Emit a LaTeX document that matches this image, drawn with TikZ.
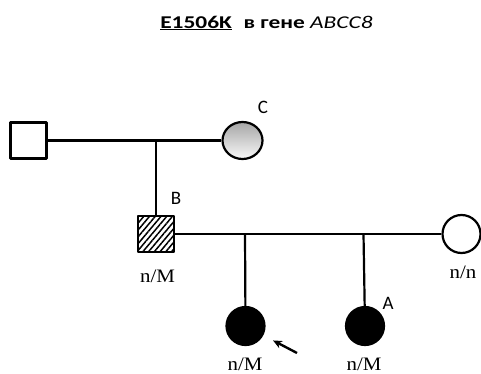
\documentclass[tikz,border=0pt]{standalone}
\usepackage{fontspec}
\setmainfont{Liberation Serif}
\newfontfamily\carlito{Carlito}
\usetikzlibrary{shapes.geometric,patterns.meta,arrows.meta}
\tikzset{
  male/.style={draw,rectangle,minimum size=36pt,inner sep=0pt,fill=white},
  female/.style={draw,circle,minimum size=38pt,inner sep=0pt,fill=white},
  affected/.style={fill=black},
  carrier/.style={pattern={Lines[angle=50,distance=4.4pt,line width=1.5pt]}},
  geno/.style={font=\fontsize{19}{19}\selectfont,inner sep=0pt},
  tag/.style={font=\carlito\fontsize{19}{19}\selectfont,inner sep=0pt}
}
\begin{document}
\begin{tikzpicture}[x=1pt,y=-1pt,line width=2.2pt,>={Stealth[length=9pt,width=8pt]},line join=round]
  \useasboundingbox (0,0) rectangle (481,374);
  \node[font=\carlito\fontsize{18}{18}\selectfont,inner sep=0pt] (title) at (266.5,23)
    {\scalebox{1.3}[1]{\textbf{\underline{E1506K}}\enspace\textbf{в гене} \textit{ABCC8}}};
  % grandparents
  \node[male] (grandpa) at (28.5,140.5) {};
  \node[draw,ellipse,minimum width=40pt,minimum height=37pt,inner sep=0pt,
    top color=gray!70,bottom color=gray!5] (grandma) at (242.5,140.5) {};
  \node[tag] (tagC) at (263,107) {C};
  \coordinate (union1) at (156,140.5);
  \draw (grandpa) -- (grandma);
  % parents
  \node[male,carrier] (father) at (156,234) {};
  \node[female] (mother) at (461.5,234) {};
  \node[tag] (tagB) at (176,198) {B};
  \draw (union1) -- (father);
  \draw (father) -- (mother);
  \node[geno] (genoB) at (157.5,276) {\scalebox{1.1}[1]{n/M}};
  \node[geno] (genoMother) at (463,272) {\scalebox{1.1}[1]{n/n}};
  % children
  \coordinate (sib1) at (245,234);
  \coordinate (sib2) at (363.5,234);
  \node[female,affected] (proband) at (245.5,326) {};
  \node[female,affected] (sister) at (365,326) {};
  \node[tag] (tagA) at (388,303) {A};
  \draw (sib1) -- (proband);
  \draw (sib2) -- (sister);
  \node[geno] (genoProband) at (245,364) {\scalebox{1.1}[1]{n/M}};
  \node[geno] (genoSister) at (364,364) {\scalebox{1.1}[1]{n/M}};
  \coordinate (arrowTail) at (297,353);
  \draw[->,line width=2.4pt,shorten >=11pt] (arrowTail) -- (proband);
\end{tikzpicture}
\end{document}
